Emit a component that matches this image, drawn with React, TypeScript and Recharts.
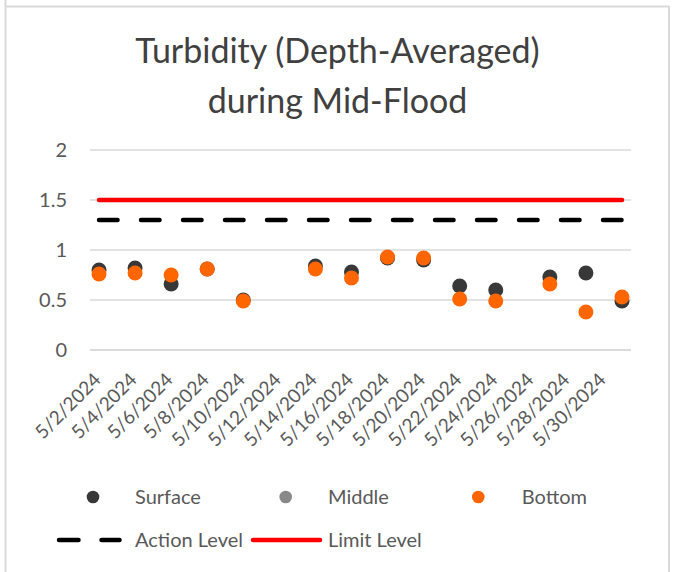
import React from "react";
import { ComposedChart, Line, XAxis, YAxis, CartesianGrid } from "recharts";

const dates = [
  "5/2/2024", "5/3/2024", "5/4/2024", "5/5/2024", "5/6/2024", "5/7/2024",
  "5/8/2024", "5/9/2024", "5/10/2024", "5/11/2024", "5/12/2024", "5/13/2024",
  "5/14/2024", "5/15/2024", "5/16/2024", "5/17/2024", "5/18/2024", "5/19/2024",
  "5/20/2024", "5/21/2024", "5/22/2024", "5/23/2024", "5/24/2024", "5/25/2024",
  "5/26/2024", "5/27/2024", "5/28/2024", "5/29/2024", "5/30/2024", "5/31/2024",
];

const surface: (number | null)[] = [
  0.8, null, 0.82, null, 0.66, null, 0.81, null, 0.5, null, null, null,
  0.84, null, 0.78, null, 0.92, null, 0.9, null, 0.64, null, 0.6, null,
  null, 0.73, null, 0.77, null, 0.49,
];

const middle: (number | null)[] = dates.map(() => null);

const bottom: (number | null)[] = [
  0.76, null, 0.77, null, 0.75, null, 0.81, null, 0.49, null, null, null,
  0.81, null, 0.72, null, 0.93, null, 0.92, null, 0.51, null, 0.49, null,
  null, 0.66, null, 0.38, null, 0.53,
];

const actionLevel = 1.3;
const limitLevel = 1.5;

const tickLabels = dates.filter((_, i) => i % 2 === 0);
const yTicks = [0, 0.5, 1, 1.5, 2];

const data = dates.map((d, i) => ({
  date: d,
  surface: surface[i],
  middle: middle[i],
  bottom: bottom[i],
  action: actionLevel,
  limit: limitLevel,
}));

const FONT = "Lato, 'Open Sans', sans-serif";
const TEXT = "#595959";
const SURF = "#383838";
const MID = "#898989";
const BOT = "#ff6600";

const XTick = (props: any) => {
  const { x, y, payload } = props;
  return (
    <g transform={`translate(${x + 3},${y + 31}) rotate(-45)`}>
      <text x={0} y={0} textAnchor="end" fontSize={19} fill={TEXT} fontFamily={FONT}>
        {payload.value}
      </text>
    </g>
  );
};

const YTick = (props: any) => {
  const { x, y, payload } = props;
  return (
    <text x={x} y={y} dy="0.35em" textAnchor="end" fontSize={20} fill={TEXT} fontFamily={FONT}>
      {String(payload.value)}
    </text>
  );
};

export default function App() {
  return (
    <div style={{ position: "absolute", left: 0, top: 0, width: 673, height: 572, background: "#fff", overflow: "hidden" }}>
      <ComposedChart
        width={673}
        height={572}
        data={data}
        margin={{ top: 150, right: 42, bottom: 0, left: 0 }}
      >
        <CartesianGrid vertical={false} stroke="#d9d9d9" strokeWidth={1.3} />
        <XAxis
          dataKey="date"
          scale="band"
          ticks={tickLabels}
          interval={0}
          tick={<XTick />}
          tickSize={0}
          tickMargin={0}
          height={222}
          axisLine={{ stroke: "#d9d9d9", strokeWidth: 1.3 }}
          tickLine={false}
        />
        <YAxis
          domain={[0, 2]}
          ticks={yTicks}
          width={90}
          tick={<YTick />}
          tickSize={0}
          tickMargin={23}
          axisLine={false}
          tickLine={false}
        />
        <Line
          dataKey="limit"
          stroke="#ff0000"
          strokeWidth={4.5}
          strokeLinecap="round"
          dot={false}
          activeDot={false}
          isAnimationActive={false}
        />
        <Line
          dataKey="action"
          stroke="#000000"
          strokeWidth={4.5}
          strokeLinecap="round"
          strokeDasharray="18.5 23.5"
          dot={false}
          activeDot={false}
          isAnimationActive={false}
        />
        <Line
          dataKey="surface"
          stroke="none"
          dot={{ r: 7.5, fill: SURF, stroke: "none" }}
          activeDot={false}
          isAnimationActive={false}
        />
        <Line
          dataKey="middle"
          stroke="none"
          dot={{ r: 7.5, fill: MID, stroke: "none" }}
          activeDot={false}
          isAnimationActive={false}
        />
        <Line
          dataKey="bottom"
          stroke="none"
          dot={{ r: 7.5, fill: BOT, stroke: "none" }}
          activeDot={false}
          isAnimationActive={false}
        />
      </ComposedChart>
      <svg
        width={673}
        height={572}
        style={{ position: "absolute", left: 0, top: 0, pointerEvents: "none" }}
      >
        <line x1={5.5} y1={0} x2={5.5} y2={572} stroke="#d9d9d9" strokeWidth={2} />
        <line x1={5} y1={6.5} x2={669} y2={6.5} stroke="#d9d9d9" strokeWidth={2} />
        <line x1={669} y1={6} x2={669} y2={572} stroke="#d9d9d9" strokeWidth={2} />
        <text x={337.5} y={63} textAnchor="middle" fontSize={34} fill="#404040" fontFamily={FONT}>
          Turbidity (Depth-Averaged)
        </text>
        <text x={337.5} y={113} textAnchor="middle" fontSize={34} fill="#404040" fontFamily={FONT}>
          during Mid-Flood
        </text>
        <g fontFamily={FONT} fontSize={20} fill={TEXT}>
          <circle cx={93} cy={497} r={6.3} fill={SURF} />
          <text x={135} y={497} dy="0.35em">Surface</text>
          <circle cx={285.7} cy={497} r={6.3} fill={MID} />
          <text x={328} y={497} dy="0.35em">Middle</text>
          <circle cx={478.3} cy={497} r={6.3} fill={BOT} />
          <text x={521.7} y={497} dy="0.35em">Bottom</text>
          <line x1={59} y1={540} x2={78.5} y2={540} stroke="#000" strokeWidth={4.5} strokeLinecap="round" />
          <line x1={101.5} y1={540} x2={119.5} y2={540} stroke="#000" strokeWidth={4.5} strokeLinecap="round" />
          <text x={135} y={540} dy="0.35em">Action Level</text>
          <line x1={253} y1={540} x2={320} y2={540} stroke="#ff0000" strokeWidth={4.5} strokeLinecap="round" />
          <text x={328} y={540} dy="0.35em">Limit Level</text>
        </g>
      </svg>
    </div>
  );
}
